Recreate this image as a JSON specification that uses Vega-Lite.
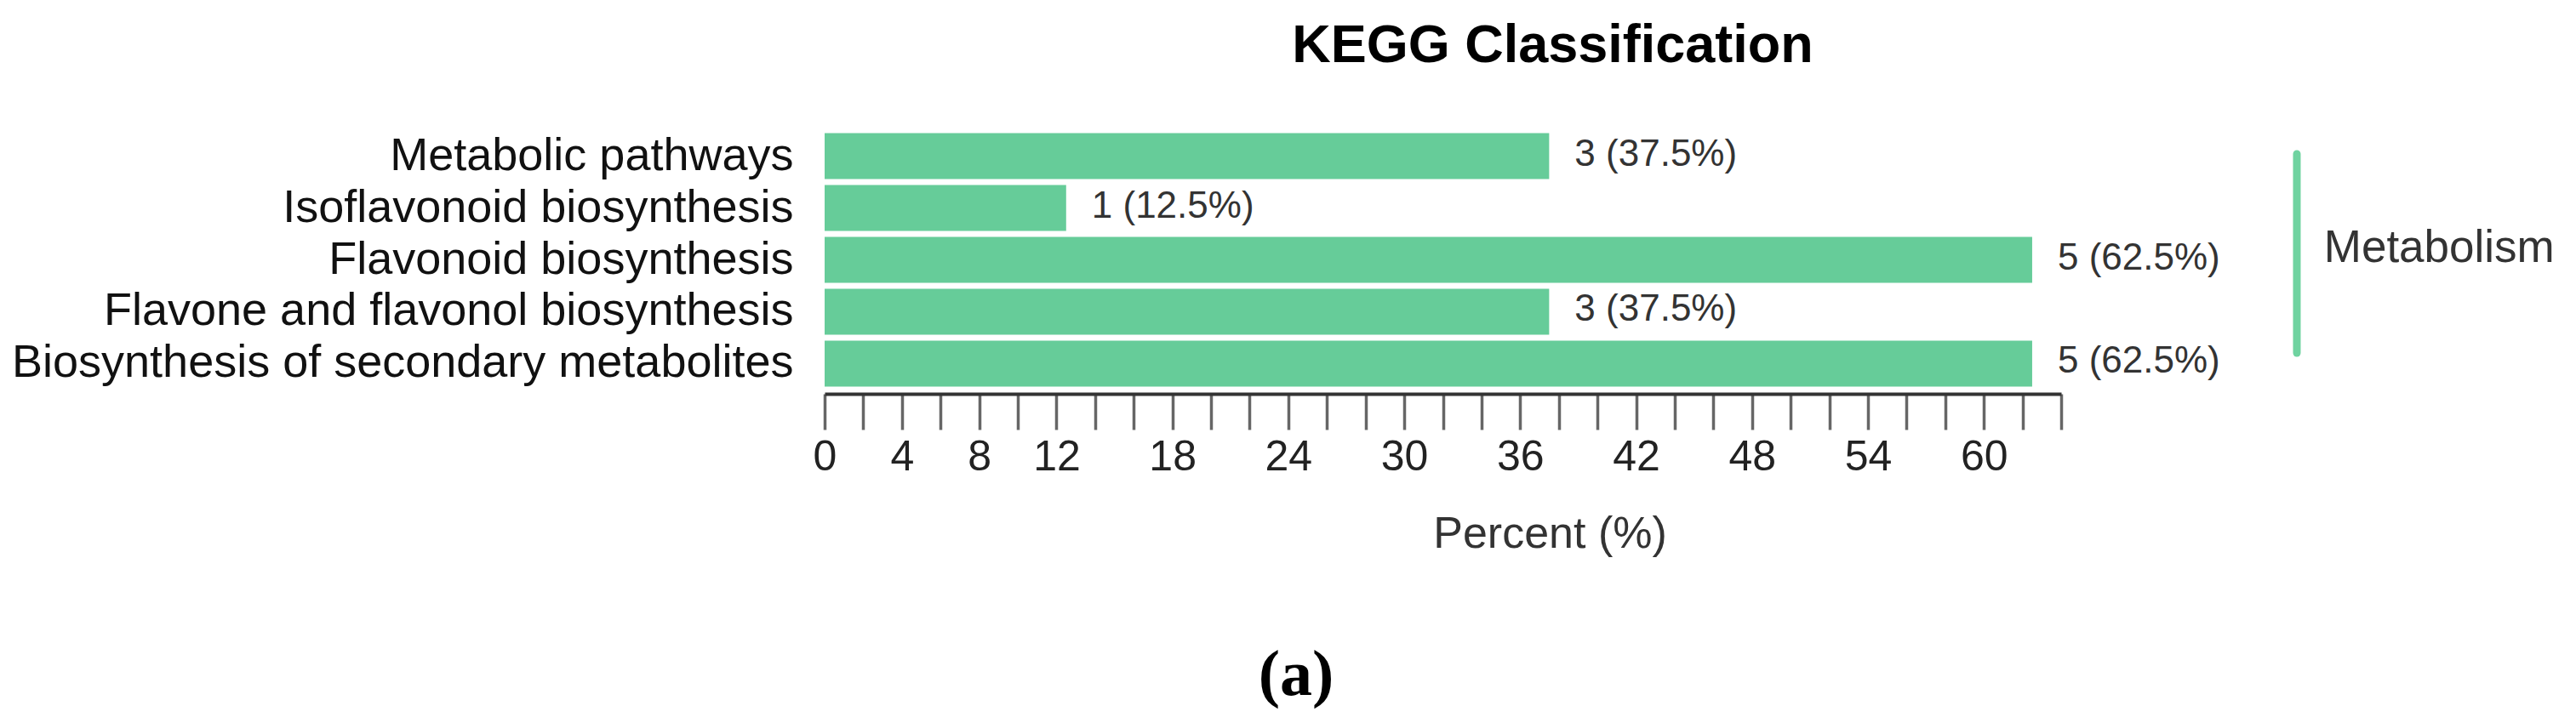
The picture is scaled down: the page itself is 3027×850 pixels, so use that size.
{
  "$schema": "https://vega.github.io/schema/vega-lite/v6.json",
  "width": 1453,
  "height": 315,
  "autosize": {"type": "none"},
  "padding": {"left": 969, "top": 148, "right": 605, "bottom": 387},
  "background": "white",
  "title": {
    "text": "KEGG Classification",
    "font": "Liberation Sans",
    "fontSize": 63,
    "fontWeight": "bold",
    "color": "#000000",
    "anchor": "middle",
    "dx": 129,
    "baseline": "alphabetic",
    "offset": 12
  },
  "config": {"view": {"stroke": null}},
  "layer": [
    {
      "data": {
        "values": [
          {"pathway": "Metabolic pathways", "count": 3, "percent": 37.5, "label": "3 (37.5%)"},
          {"pathway": "Isoflavonoid biosynthesis", "count": 1, "percent": 12.5, "label": "1 (12.5%)"},
          {"pathway": "Flavonoid biosynthesis", "count": 5, "percent": 62.5, "label": "5 (62.5%)"},
          {"pathway": "Flavone and flavonol biosynthesis", "count": 3, "percent": 37.5, "label": "3 (37.5%)"},
          {"pathway": "Biosynthesis of secondary metabolites", "count": 5, "percent": 62.5, "label": "5 (62.5%)"}
        ]
      },
      "encoding": {
        "y": {
          "field": "pathway",
          "type": "nominal",
          "sort": null,
          "scale": {"paddingInner": 0.115, "paddingOuter": 0.14},
          "axis": {
            "title": null,
            "domain": false,
            "ticks": false,
            "labelFont": "Liberation Sans",
            "labelFontSize": 54,
            "labelColor": "#111111",
            "labelPadding": 37,
            "labelLimit": 1200
          }
        },
        "x": {
          "field": "percent",
          "type": "quantitative",
          "scale": {"domain": [0, 64], "nice": false, "zero": true},
          "axis": {
            "title": "Percent (%)",
            "values": [0, 2, 4, 6, 8, 10, 12, 14, 16, 18, 20, 22, 24, 26, 28, 30, 32, 34, 36, 38, 40, 42, 44, 46, 48, 50, 52, 54, 56, 58, 60, 62, 64],
            "labelExpr": "indexof([0, 4, 8, 12, 18, 24, 30, 36, 42, 48, 54, 60], datum.value) >= 0 ? datum.label : ''",
            "labelFont": "Liberation Sans",
            "labelFontSize": 50,
            "labelColor": "#222222",
            "labelPadding": 7,
            "labelFlush": false,
            "labelOverlap": false,
            "grid": false,
            "tickSize": 42,
            "tickWidth": 3.5,
            "tickColor": "#666666",
            "domainColor": "#333333",
            "domainWidth": 4,
            "titleFont": "Liberation Sans",
            "titleFontSize": 52,
            "titleFontWeight": "normal",
            "titleColor": "#333333",
            "titleX": 852,
            "titleY": 180,
            "titleAlign": "center",
            "titleBaseline": "alphabetic"
          }
        }
      },
      "layer": [
        {"mark": {"type": "bar", "color": "#66CC99"}},
        {
          "mark": {"type": "text", "align": "left", "baseline": "middle", "dx": 30, "dy": -2, "font": "Liberation Sans", "fontSize": 44, "color": "#333333"},
          "encoding": {"text": {"field": "label", "type": "nominal"}}
        }
      ]
    },
    {
      "data": {
        "values": [
          {"group": "Metabolism", "caption": "(a)", "gx": 76.2, "tx": 77.6, "cx": 24.4, "y1": 33, "y2": 267, "ty": 144, "cy": 646}
        ]
      },
      "layer": [
        {
          "mark": {"type": "rule", "color": "#6FD3A0", "strokeWidth": 9, "strokeCap": "round"},
          "encoding": {
            "x": {"field": "gx", "type": "quantitative", "scale": {"domain": [0, 64], "nice": false}},
            "y": {"field": "y1", "type": "quantitative", "scale": {"domain": [0, 315], "reverse": true, "nice": false, "zero": false}, "axis": null},
            "y2": {"field": "y2"}
          }
        },
        {
          "mark": {"type": "text", "align": "left", "baseline": "middle", "font": "Liberation Sans", "fontSize": 53, "color": "#333333"},
          "encoding": {
            "x": {"field": "tx", "type": "quantitative", "scale": {"domain": [0, 64], "nice": false}},
            "y": {"field": "ty", "type": "quantitative", "scale": {"domain": [0, 315], "reverse": true, "nice": false, "zero": false}, "axis": null},
            "text": {"field": "group", "type": "nominal"}
          }
        },
        {
          "mark": {"type": "text", "align": "center", "baseline": "middle", "font": "Liberation Serif", "fontSize": 76, "fontWeight": "bold", "color": "#000000"},
          "encoding": {
            "x": {"field": "cx", "type": "quantitative", "scale": {"domain": [0, 64], "nice": false}},
            "y": {"field": "cy", "type": "quantitative", "scale": {"domain": [0, 315], "reverse": true, "nice": false, "zero": false}, "axis": null},
            "text": {"field": "caption", "type": "nominal"}
          }
        }
      ]
    }
  ],
  "resolve": {"scale": {"y": "independent"}}
}
